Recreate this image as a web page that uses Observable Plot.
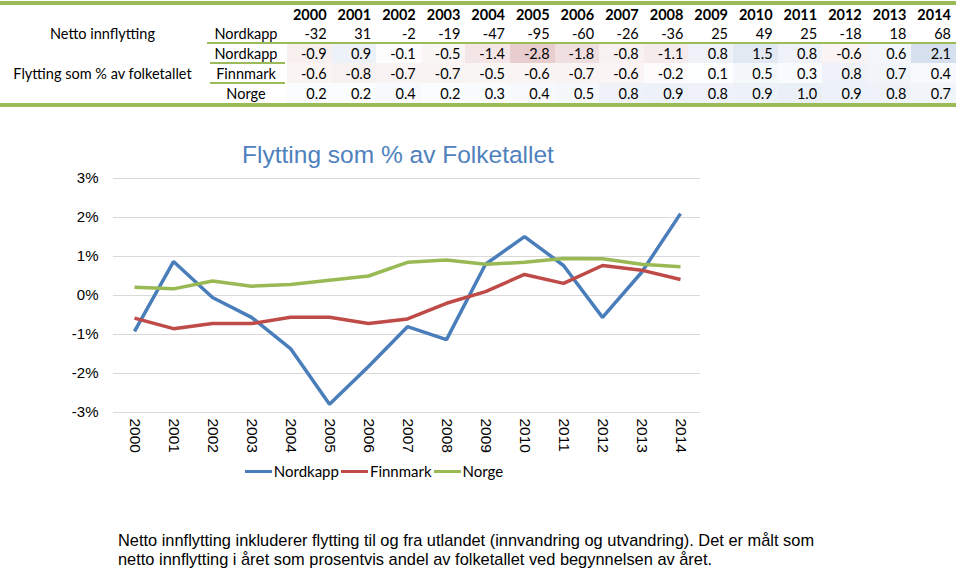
<!DOCTYPE html>
<html><head><meta charset="utf-8">
<script src="https://cdn.jsdelivr.net/npm/d3@7"></script>
<script src="https://cdn.jsdelivr.net/npm/@observablehq/plot@0.6"></script>
<style>
body{margin:0;background:#fff;width:960px;height:570px;position:relative;overflow:hidden;font-family:"Liberation Sans",Arial,sans-serif;}
.c{position:absolute;font-family:Lato,"Open Sans",sans-serif;font-size:14.5px;color:#000;display:flex;align-items:center;box-sizing:border-box;white-space:nowrap;}
.rule{position:absolute;background:#9bbb59;}
#title{position:absolute;left:0;width:796px;top:141px;text-align:center;font-size:24.5px;color:#4f81bd;font-family:"Liberation Sans",Arial,sans-serif;}
#chart{position:absolute;left:0;top:160px;}
#legend{position:absolute;top:462px;left:0;width:750px;display:flex;justify-content:center;font-family:Lato,sans-serif;font-size:15px;}
#legend span.it{display:flex;align-items:center;margin-right:2px;}
#legend i{display:inline-block;width:27px;height:3px;margin-right:2px;}
#caption{position:absolute;left:118px;top:531px;font-size:16.4px;line-height:19px;font-family:"Liberation Sans",Arial,sans-serif;color:#000;}
</style></head>
<body>
<div id="tbl"></div>
<div id="title">Flytting som % av Folketallet</div>
<div id="chart"></div>
<div id="legend"></div>
<div id="caption">Netto innflytting inkluderer flytting til og fra utlandet (innvandring og utvandring). Det er målt som<br>netto innflytting i året som prosentvis andel av folketallet ved begynnelsen av året.</div>
<script>
// ---- data ----
const years = ["2000","2001","2002","2003","2004","2005","2006","2007","2008","2009","2010","2011","2012","2013","2014"];
const nettoNordkapp = [-32,31,-2,-19,-47,-95,-60,-26,-36,25,49,25,-18,18,68];
const tblNordkapp = ["-0.9","0.9","-0.1","-0.5","-1.4","-2.8","-1.8","-0.8","-1.1","0.8","1.5","0.8","-0.6","0.6","2.1"];
const tblFinnmark = ["-0.6","-0.8","-0.7","-0.7","-0.5","-0.6","-0.7","-0.6","-0.2","0.1","0.5","0.3","0.8","0.7","0.4"];
const tblNorge = ["0.2","0.2","0.4","0.2","0.3","0.4","0.5","0.8","0.9","0.8","0.9","1.0","0.9","0.8","0.7"];
// chart series (in %)
const seriesNames = ["Nordkapp","Finnmark","Norge"];
const seriesColors = ["#4a7ebb","#be4b48","#98b954"];
const lineNordkapp = [-0.92,0.87,-0.05,-0.56,-1.36,-2.79,-1.82,-0.8,-1.13,0.8,1.51,0.77,-0.56,0.59,2.1];
const lineFinnmark = [-0.58,-0.85,-0.72,-0.72,-0.56,-0.56,-0.72,-0.6,-0.2,0.1,0.54,0.31,0.77,0.65,0.41];
const lineNorge = [0.21,0.17,0.37,0.24,0.28,0.39,0.5,0.85,0.91,0.8,0.85,0.95,0.94,0.8,0.74];
const yTicks = [-3,-2,-1,0,1,2,3];

// ---- table ----
const tbl = document.getElementById("tbl");
function cell(txt, x, y, w, h, opts={}) {
  const d = document.createElement("div");
  d.className = "c";
  d.textContent = txt;
  Object.assign(d.style, {left:x+"px", top:y+"px", width:w+"px", height:h+"px",
    justifyContent: opts.align || "flex-end", paddingRight: (opts.pr ?? 5)+"px",
    fontWeight: opts.bold ? "700" : "400", background: opts.bg || "transparent"});
  tbl.appendChild(d);
}
function rule(x,y,w,h){const r=document.createElement("div");r.className="rule";Object.assign(r.style,{left:x+"px",top:y+"px",width:w+"px",height:h+"px"});tbl.appendChild(r);}
const c2x = 205, vx = 287, tw = 956, cw = (tw - vx)/years.length;
const rowsY = [5,23,43,63,83], rowsH = [18,20,20,20,20];
const negC = d3.interpolateRgb("#ffffff","#e8cdce"), posC = d3.interpolateRgb("#ffffff","#d6e0ee");
const heat = v => v < 0 ? negC(Math.min(1,-v/2.8)) : posC(Math.min(1,v/2.1));
years.forEach((yr,i)=>{
  const x = vx + i*cw;
  cell(yr, x, rowsY[0], cw, rowsH[0], {bold:true});
  cell(String(nettoNordkapp[i]), x, rowsY[1], cw, rowsH[1]);
  cell(tblNordkapp[i], x, rowsY[2], cw, rowsH[2], {bg: heat(+tblNordkapp[i])});
  cell(tblFinnmark[i], x, rowsY[3], cw, rowsH[3], {bg: heat(+tblFinnmark[i])});
  cell(tblNorge[i], x, rowsY[4], cw, rowsH[4], {bg: heat(+tblNorge[i])});
});
cell("Netto innflytting", 0, rowsY[1], c2x, rowsH[1], {align:"center", pr:0});
cell("Flytting som % av folketallet", 0, rowsY[2], c2x, 60, {align:"center", pr:0});
cell("Nordkapp", c2x, rowsY[1], vx-c2x, rowsH[1], {align:"center", pr:0});
seriesNames.forEach((s,k)=>cell(s, c2x, rowsY[2+k], vx-c2x, rowsH[2+k], {align:"center", pr:0}));
rule(0,1,tw,4); rule(0,103,tw,4);
rule(207,42,tw-207,1.5);
rule(210,62,75,1.5); rule(210,82,75,1.5);

// ---- chart ----
const data = [];
[lineNordkapp,lineFinnmark,lineNorge].forEach((arr,k)=>arr.forEach((v,i)=>data.push({series:seriesNames[k], year:years[i], value:v})));
const chart = Plot.plot({
  width: 960, height: 302,
  marginTop: 18, marginBottom: 50, marginLeft: 113, marginRight: 260,
  style: {fontFamily: "'Liberation Sans', Arial, sans-serif", fontSize: "15px", color: "#000", background: "transparent", overflow: "visible"},
  x: {type: "point", domain: years, padding: 0.5, label: null},
  y: {domain: [-3, 3], label: null},
  color: {domain: seriesNames, range: seriesColors},
  marks: [
    Plot.ruleY(yTicks, {stroke: "#d9d9d9", strokeWidth: 1}),
    Plot.axisY(yTicks, {tickSize: 0, tickPadding: 15, tickFormat: d => d + "%", label: null}),
    Plot.axisX({tickSize: 0, tickRotate: 90, tickPadding: 6, label: null, fontSize: 15.5}),
    Plot.line(data, {x: "year", y: "value", z: "series", stroke: "series", strokeWidth: 3.5, strokeLinejoin: "miter", strokeLinecap: "butt"})
  ]
});
document.getElementById("chart").appendChild(chart);

// ---- legend ----
const lg = document.getElementById("legend");
seriesNames.forEach((s,k)=>{
  const it = document.createElement("span"); it.className="it";
  it.innerHTML = `<i style="background:${seriesColors[k]}"></i>${s}`;
  lg.appendChild(it);
});
</script>
</body></html>
